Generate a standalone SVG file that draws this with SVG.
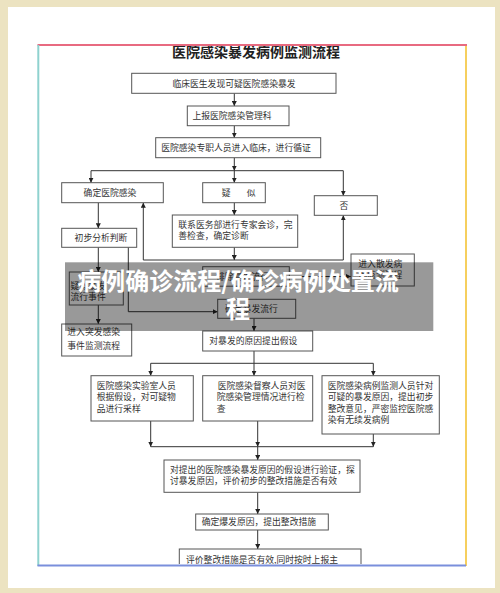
<svg xmlns="http://www.w3.org/2000/svg" width="500" height="593" viewBox="0 0 500 593">
<defs>
<style>
.box{fill:#fff;stroke:#555;stroke-width:1}
.t{font-family:"Noto Sans CJK SC","Noto Sans",sans-serif;font-size:8.8px;fill:#333}
.c{stroke:#333;stroke-width:1;fill:none}
.ca{stroke:#333;stroke-width:1;fill:none;marker-end:url(#ah)}
</style>
<marker id="ah" viewBox="0 0 10 10" refX="10" refY="5" markerWidth="5" markerHeight="5" orient="auto" markerUnits="userSpaceOnUse">
<path d="M0,0 L10,5 L0,10 z" fill="#222"/>
</marker>
<clipPath id="clip"><rect x="39" y="46" width="426" height="518"/></clipPath>
</defs>
<rect x="0" y="0" width="500" height="593" fill="#ece3c1"/>
<rect x="8" y="7" width="487" height="581" fill="#fff"/>
<g clip-path="url(#clip)">
<text x="256" y="57" text-anchor="middle" style="font-family:'Noto Sans CJK SC',serif;font-size:14px;font-weight:700;fill:#222">医院感染暴发病例监测流程</text>
<g id="connectors">
<path class="ca" d="M234.3,93.3 V106"/>
<path class="ca" d="M234.3,125.7 V137.7"/>
<path class="ca" d="M234.3,157.7 V170.7"/>
<path class="c" d="M91,170.7 H343.3"/>
<path class="ca" d="M91,170.7 V182.7"/>
<path class="ca" d="M234.3,170.7 V182.7"/>
<path class="ca" d="M343.3,170.7 V195.7"/>
<path class="ca" d="M98.3,202.7 V228.3"/>
<path class="ca" d="M234.3,202.7 V215"/>
<path class="ca" d="M234.3,247.3 V260"/>
<path class="c" d="M143.3,260 H343.3"/>
<path class="ca" d="M143.3,260 V202.7"/>
<path class="ca" d="M343.3,260 V215.3"/>
<path class="ca" d="M98.3,247.3 V272"/>
<path class="ca" d="M128.3,247.3 V311.7 H217.7"/>
<path class="ca" d="M98.3,305 V324"/>
<path class="ca" d="M289.3,276.5 H351"/>
<path class="ca" d="M254,318.3 V331"/>
<path class="c" d="M254,351 V363.3"/>
<path class="c" d="M150.7,363.3 H373.3"/>
<path class="ca" d="M150.7,363.3 V375.7"/>
<path class="ca" d="M254,363.3 V375.7"/>
<path class="ca" d="M373.3,363.3 V375.7"/>
<path class="ca" d="M150.7,421 V446.7"/>
<path class="ca" d="M257.7,421 V446.7"/>
<path class="ca" d="M373.3,434 V446.7"/>
<path class="c" d="M150.7,446.7 H373.3"/>
<path class="ca" d="M257.7,446.7 V460"/>
<path class="ca" d="M257.7,492.3 V514"/>
<path class="ca" d="M257.7,530 V549"/>
</g>
<g id="n1"><rect class="box" x="131.7" y="73.3" width="204.3" height="20"/><text class="t" x="234" y="86.5" text-anchor="middle">临床医生发现可疑医院感染暴发</text></g>
<g id="n2"><rect class="box" x="187.3" y="106" width="101.7" height="19.7"/><text class="t" x="232" y="119" text-anchor="middle">上报医院感染管理科</text></g>
<g id="n3"><rect class="box" x="155.7" y="137.7" width="165" height="20"/><text class="t" x="236" y="151" text-anchor="middle">医院感染专职人员进入临床，进行循证</text></g>
<g id="n4"><rect class="box" x="61.7" y="182.7" width="101.6" height="20"/><text class="t" x="110" y="196" text-anchor="middle">确定医院感染</text></g>
<g id="n5"><rect class="box" x="202.7" y="182.7" width="62.6" height="20"/><text class="t" y="196"><tspan x="221.7">疑</tspan><tspan x="246.7">似</tspan></text></g>
<g id="n6"><rect class="box" x="314.3" y="195.7" width="63" height="19.6"/><text class="t" x="344" y="208.8" text-anchor="middle">否</text></g>
<g id="n7"><rect class="box" x="61.7" y="228.3" width="75" height="19"/><text class="t" x="101" y="241" text-anchor="middle">初步分析判断</text></g>
<g id="n8"><rect class="box" x="172.3" y="215" width="125.4" height="32.3"/><text class="t"><tspan x="178.3" y="227.5">联系医务部进行专家会诊，完</tspan><tspan x="178.3" y="239">善检查，确定诊断</tspan></text></g>
<g id="n9"><rect class="box" x="351" y="254" width="63.3" height="32"/><text class="t"><tspan x="358.3" y="266.5">进入散发病</tspan><tspan x="358.3" y="278">例监测流程</tspan></text></g>
<g id="n10"><rect class="box" x="202.7" y="266.7" width="86.6" height="19.5"/><text class="t" x="216" y="280">排除暴发流行</text></g>
<g id="n11"><rect class="box" x="69.3" y="272" width="54" height="33"/><text class="t"><tspan x="70.5" y="288.5">疑似暴发</tspan><tspan x="70.5" y="300">流行事件</tspan></text></g>
<g id="n12"><rect class="box" x="217.7" y="299.3" width="78" height="19"/><text class="t" x="225" y="312.3">确定暴发流行</text></g>
<g id="n13"><rect class="box" x="61.7" y="324" width="70" height="32"/><text class="t"><tspan x="67.3" y="334.8">进入突发感染</tspan><tspan x="67.3" y="348.5">事件监测流程</tspan></text></g>
<g id="n14"><rect class="box" x="202.7" y="331" width="110" height="20"/><text class="t" x="209.3" y="344">对暴发的原因提出假设</text></g>
<g id="n15"><rect class="box" x="91" y="375.7" width="102.3" height="45.3"/><text class="t"><tspan x="96.7" y="388.5">医院感染实验室人员</tspan><tspan x="96.7" y="400">根据假设，对可疑物</tspan><tspan x="96.7" y="411.5">品进行采样</tspan></text></g>
<g id="n16"><rect class="box" x="202.7" y="375.7" width="110" height="45.3"/><text class="t"><tspan x="217.7" y="388.5">医院感染督察人员对医</tspan><tspan x="216.7" y="400">院感染管理情况进行检</tspan><tspan x="216.7" y="411.5">查</tspan></text></g>
<g id="n17"><rect class="box" x="322" y="375.7" width="117.3" height="58.3"/><text class="t"><tspan x="327.7" y="388.5">医院感染病例监测人员针对</tspan><tspan x="327.7" y="400">可疑的暴发原因，提出初步</tspan><tspan x="327.7" y="411.5">整改意见，严密监控医院感</tspan><tspan x="327.7" y="423">染有无续发病例</tspan></text></g>
<g id="n18"><rect class="box" x="164" y="460" width="196" height="32.3"/><text class="t"><tspan x="170" y="472.5">对提出的医院感染暴发原因的假设进行验证，探</tspan><tspan x="170" y="484">讨暴发原因，评价初步的整改措施是否有效</tspan></text></g>
<g id="n19"><rect class="box" x="195.7" y="514" width="132.6" height="16"/><text class="t" x="201.7" y="525">确定爆发原因，提出整改措施</text></g>
<g id="n20"><rect class="box" x="179.3" y="549" width="181.7" height="30"/><text class="t" x="186" y="562.5">评价整改措施是否有效,同时按时上报主</text></g>
</g>
<g id="frame" fill="none" stroke-width="2">
<path d="M37.5,45 H467" stroke="#e86a80"/>
<path d="M38.3,45 V566" stroke="#8fd2cf"/>
<path d="M466,46 V566" stroke="#f6cf5e"/>
<path d="M37.5,565.5 H466" stroke="#7a8fdc"/>
</g>
<g id="overlay">
<rect x="65" y="262.3" width="368.3" height="68.7" fill="#000" fill-opacity="0.4"/>
<text x="238" y="290" text-anchor="middle" style="font-family:'Noto Sans CJK SC',sans-serif;font-size:24px;font-weight:700;fill:#fff">病例确诊流程/确诊病例处置流</text>
<text x="238" y="318" text-anchor="middle" style="font-family:'Noto Sans CJK SC',sans-serif;font-size:24px;font-weight:700;fill:#fff">程</text>
</g>
</svg>
